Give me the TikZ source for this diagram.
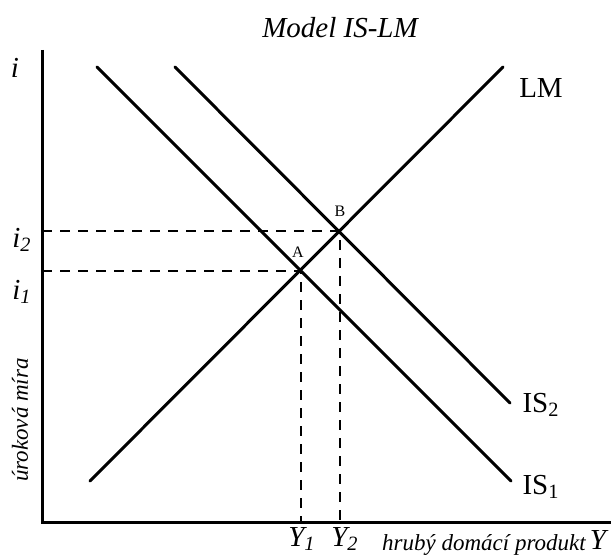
\documentclass[tikz,border=0pt]{standalone}
\usepackage{fontspec}
\setmainfont{Liberation Serif}

\tikzset{
    curve/.style={line width=1.5pt, line cap=round},
    guide/.style={line width=1pt, dash pattern=on 5pt off 4pt},
    biglabel/.style={font=\fontsize{14.5}{17}\selectfont},
    smalllabel/.style={font=\fontsize{11.5}{14}\selectfont\itshape},
    pointlabel/.style={font=\fontsize{8}{10}\selectfont}
}

\begin{document}
\begin{tikzpicture}[x=0.5pt, y=-0.5pt]

\useasboundingbox (0,0) rectangle (611,556);

% Axes
\coordinate (top) at (42,50);
\coordinate (origin) at (42,522);
\coordinate (right) at (611,522);
\draw[line width=1.5pt] (top) -- (origin) -- (right);

% Curves
\coordinate (lmstart) at (90,481);
\coordinate (lmend) at (503,67);
\coordinate (isastart) at (97,67);
\coordinate (isaend) at (511,481);
\coordinate (isbstart) at (175,67);
\coordinate (isbend) at (510,403);
\draw[curve] (lmstart) -- (lmend);   % LM
\draw[curve] (isastart) -- (isaend); % IS1
\draw[curve] (isbstart) -- (isbend); % IS2

% Equilibria
\coordinate (A) at (300.5,270.5);
\coordinate (B) at (339.5,231.5);
\draw[guide] (origin |- A) -- (A) -- (A |- origin);
\draw[guide] (origin |- B) -- (B) -- (B |- origin);

% Labels
\node[biglabel, font=\fontsize{14.5}{17}\selectfont\itshape] (title) at (340,28) {Model IS-LM};
\node[biglabel, font=\fontsize{14.5}{17}\selectfont\itshape] (ilabel) at (15,68) {i};
\node[biglabel, font=\fontsize{14.5}{17}\selectfont\itshape] (itwo) at (22,240) {i\textsubscript{2}};
\node[biglabel, font=\fontsize{14.5}{17}\selectfont\itshape] (ione) at (22,292) {i\textsubscript{1}};
\node[smalllabel, rotate=90] (rate) at (20,420) {úroková míra};
\node[biglabel, font=\fontsize{14.5}{17}\selectfont\itshape] (yone) at (302,539) {Y\textsubscript{1}};
\node[biglabel, font=\fontsize{14.5}{17}\selectfont\itshape] (ytwo) at (345,539) {Y\textsubscript{2}};
\node[smalllabel] (gdp) at (484,545) {hrubý domácí produkt};
\node[biglabel, font=\fontsize{14.5}{17}\selectfont\itshape] (ylabel) at (598,540) {Y};
\node[biglabel] (lm) at (541,88) {LM};
\node[biglabel] (istwo) at (541,405) {IS\textsubscript{2}};
\node[biglabel] (isone) at (541,487) {IS\textsubscript{1}};
\node[pointlabel] (alabel) at (298,252) {A};
\node[pointlabel] (blabel) at (340,211) {B};

\end{tikzpicture}
\end{document}
